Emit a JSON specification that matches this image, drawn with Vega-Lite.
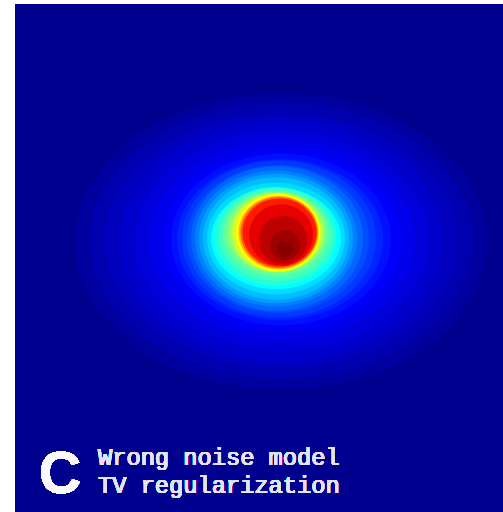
{
  "$schema": "https://vega.github.io/schema/vega-lite/v6.json",
  "width": 488,
  "height": 508,
  "autosize": {"type": "none"},
  "padding": {"left": 15, "top": 4, "right": 0, "bottom": 0},
  "background": "white",
  "config": {"view": {"fill": "#00008f", "stroke": null}},
  "data": {"values": [
    {"t": 0.03, "cx": 281, "cy": 241.5, "rx": 206, "k": "0.72"},
    {"t": 0.045, "cx": 281, "cy": 241, "rx": 192, "k": "0.72"},
    {"t": 0.06, "cx": 281, "cy": 241, "rx": 177, "k": "0.72"},
    {"t": 0.075, "cx": 281, "cy": 240.5, "rx": 162, "k": "0.75"},
    {"t": 0.09, "cx": 281.5, "cy": 240.5, "rx": 147, "k": "0.75"},
    {"t": 0.105, "cx": 282, "cy": 240, "rx": 133, "k": "0.75"},
    {"t": 0.12, "cx": 282, "cy": 240, "rx": 120, "k": "0.75"},
    {"t": 0.14, "cx": 281, "cy": 239.5, "rx": 110, "k": "0.78"},
    {"t": 0.16, "cx": 280, "cy": 239.5, "rx": 103, "k": "0.78"},
    {"t": 0.18, "cx": 279, "cy": 239, "rx": 97, "k": "0.81"},
    {"t": 0.2, "cx": 278, "cy": 239, "rx": 91, "k": "0.81"},
    {"t": 0.225, "cx": 277, "cy": 238.5, "rx": 86, "k": "0.84"},
    {"t": 0.25, "cx": 276, "cy": 238.5, "rx": 81, "k": "0.84"},
    {"t": 0.28, "cx": 276, "cy": 238.5, "rx": 77, "k": "0.84"},
    {"t": 0.31, "cx": 276, "cy": 238.5, "rx": 73, "k": "0.84"},
    {"t": 0.34, "cx": 276, "cy": 238.5, "rx": 69, "k": "0.81"},
    {"t": 0.375, "cx": 276, "cy": 238.5, "rx": 65, "k": "0.78"},
    {"t": 0.41, "cx": 275.5, "cy": 236.5, "rx": 61, "k": "0.81"},
    {"t": 0.44, "cx": 276, "cy": 235, "rx": 57, "k": "0.81"},
    {"t": 0.47, "cx": 276, "cy": 233.5, "rx": 53, "k": "0.81"},
    {"t": 0.5, "cx": 276.5, "cy": 232.5, "rx": 50, "k": "0.81"},
    {"t": 0.54, "cx": 277, "cy": 232.5, "rx": 47, "k": "0.84"},
    {"t": 0.58, "cx": 277, "cy": 232.5, "rx": 45, "k": "0.88"},
    {"t": 0.625, "cx": 278, "cy": 232.5, "rx": 42, "k": "0.92"},
    {"t": 0.7, "cx": 278.5, "cy": 232.5, "rx": 40, "k": "0.92"},
    {"t": 0.78, "cx": 279, "cy": 232.5, "rx": 38.5, "k": "0.92"},
    {"t": 0.85, "cx": 279.5, "cy": 232.5, "rx": 37, "k": "0.92"},
    {"t": 0.9, "cx": 281, "cy": 235, "rx": 32, "k": "0.96"},
    {"t": 0.94, "cx": 283, "cy": 240, "rx": 24, "k": "1.00"},
    {"t": 0.97, "cx": 285, "cy": 245, "rx": 15, "k": "1.00"},
    {"t": 0.99, "cx": 285, "cy": 249, "rx": 8, "k": "1.00"}
  ]},
  "layer": [
    {
      "mark": {"type": "point", "filled": true, "opacity": 1, "strokeWidth": 0, "clip": true},
      "encoding": {
        "x": {"field": "cx", "type": "quantitative", "scale": {"domain": [15, 503], "nice": false, "zero": false}, "axis": null},
        "y": {"field": "cy", "type": "quantitative", "scale": {"domain": [4, 512], "nice": false, "zero": false, "reverse": true}, "axis": null},
        "size": {"field": "rx", "type": "quantitative", "scale": {"type": "pow", "exponent": 2, "domain": [0, 244], "range": [0, 238144], "zero": true}, "legend": null},
        "shape": {"field": "k", "type": "nominal", "legend": null, "scale": {
          "domain": ["0.72", "0.75", "0.78", "0.81", "0.84", "0.88", "0.92", "0.96", "1.00", "1.05"],
          "range": [
            "M1,0C1,0.3977 0.5523,0.72 0,0.72C-0.5523,0.72 -1,0.3977 -1,0C-1,-0.3977 -0.5523,-0.72 0,-0.72C0.5523,-0.72 1,-0.3977 1,0Z",
            "M1,0C1,0.4142 0.5523,0.75 0,0.75C-0.5523,0.75 -1,0.4142 -1,0C-1,-0.4142 -0.5523,-0.75 0,-0.75C0.5523,-0.75 1,-0.4142 1,0Z",
            "M1,0C1,0.4308 0.5523,0.78 0,0.78C-0.5523,0.78 -1,0.4308 -1,0C-1,-0.4308 -0.5523,-0.78 0,-0.78C0.5523,-0.78 1,-0.4308 1,0Z",
            "M1,0C1,0.4474 0.5523,0.81 0,0.81C-0.5523,0.81 -1,0.4474 -1,0C-1,-0.4474 -0.5523,-0.81 0,-0.81C0.5523,-0.81 1,-0.4474 1,0Z",
            "M1,0C1,0.4639 0.5523,0.84 0,0.84C-0.5523,0.84 -1,0.4639 -1,0C-1,-0.4639 -0.5523,-0.84 0,-0.84C0.5523,-0.84 1,-0.4639 1,0Z",
            "M1,0C1,0.4860 0.5523,0.88 0,0.88C-0.5523,0.88 -1,0.4860 -1,0C-1,-0.4860 -0.5523,-0.88 0,-0.88C0.5523,-0.88 1,-0.4860 1,0Z",
            "M1,0C1,0.5081 0.5523,0.92 0,0.92C-0.5523,0.92 -1,0.5081 -1,0C-1,-0.5081 -0.5523,-0.92 0,-0.92C0.5523,-0.92 1,-0.5081 1,0Z",
            "M1,0C1,0.5302 0.5523,0.96 0,0.96C-0.5523,0.96 -1,0.5302 -1,0C-1,-0.5302 -0.5523,-0.96 0,-0.96C0.5523,-0.96 1,-0.5302 1,0Z",
            "M1,0C1,0.5523 0.5523,1 0,1C-0.5523,1 -1,0.5523 -1,0C-1,-0.5523 -0.5523,-1 0,-1C0.5523,-1 1,-0.5523 1,0Z",
            "M1,0C1,0.5799 0.5523,1.05 0,1.05C-0.5523,1.05 -1,0.5799 -1,0C-1,-0.5799 -0.5523,-1.05 0,-1.05C0.5523,-1.05 1,-0.5799 1,0Z"
          ]}},
        "color": {"field": "t", "type": "quantitative", "legend": null, "scale": {
          "domain": [0, 0.125, 0.375, 0.625, 0.875, 1],
          "range": ["#000080", "#0000ff", "#00ffff", "#ffff00", "#ff0000", "#800000"],
          "interpolate": "rgb"}},
        "order": {"field": "t", "type": "quantitative"}
      }
    },
    {
      "mark": {"type": "text", "text": "C", "font": "Liberation Sans", "fontWeight": "bold", "fontSize": 59, "color": "#fafaff", "align": "center", "baseline": "alphabetic"},
      "encoding": {
        "x": {"datum": 60, "type": "quantitative"},
        "y": {"datum": 493, "type": "quantitative"}
      }
    },
    {
      "mark": {"type": "text", "text": ["Wrong noise model", "TV regularization"], "font": "Liberation Mono", "fontWeight": "normal", "fontSize": 23.7, "lineHeight": 28, "color": "#e4e4f2", "align": "left", "baseline": "alphabetic"},
      "encoding": {
        "x": {"datum": 98, "type": "quantitative"},
        "y": {"datum": 465, "type": "quantitative"}
      }
    }
  ]
}
